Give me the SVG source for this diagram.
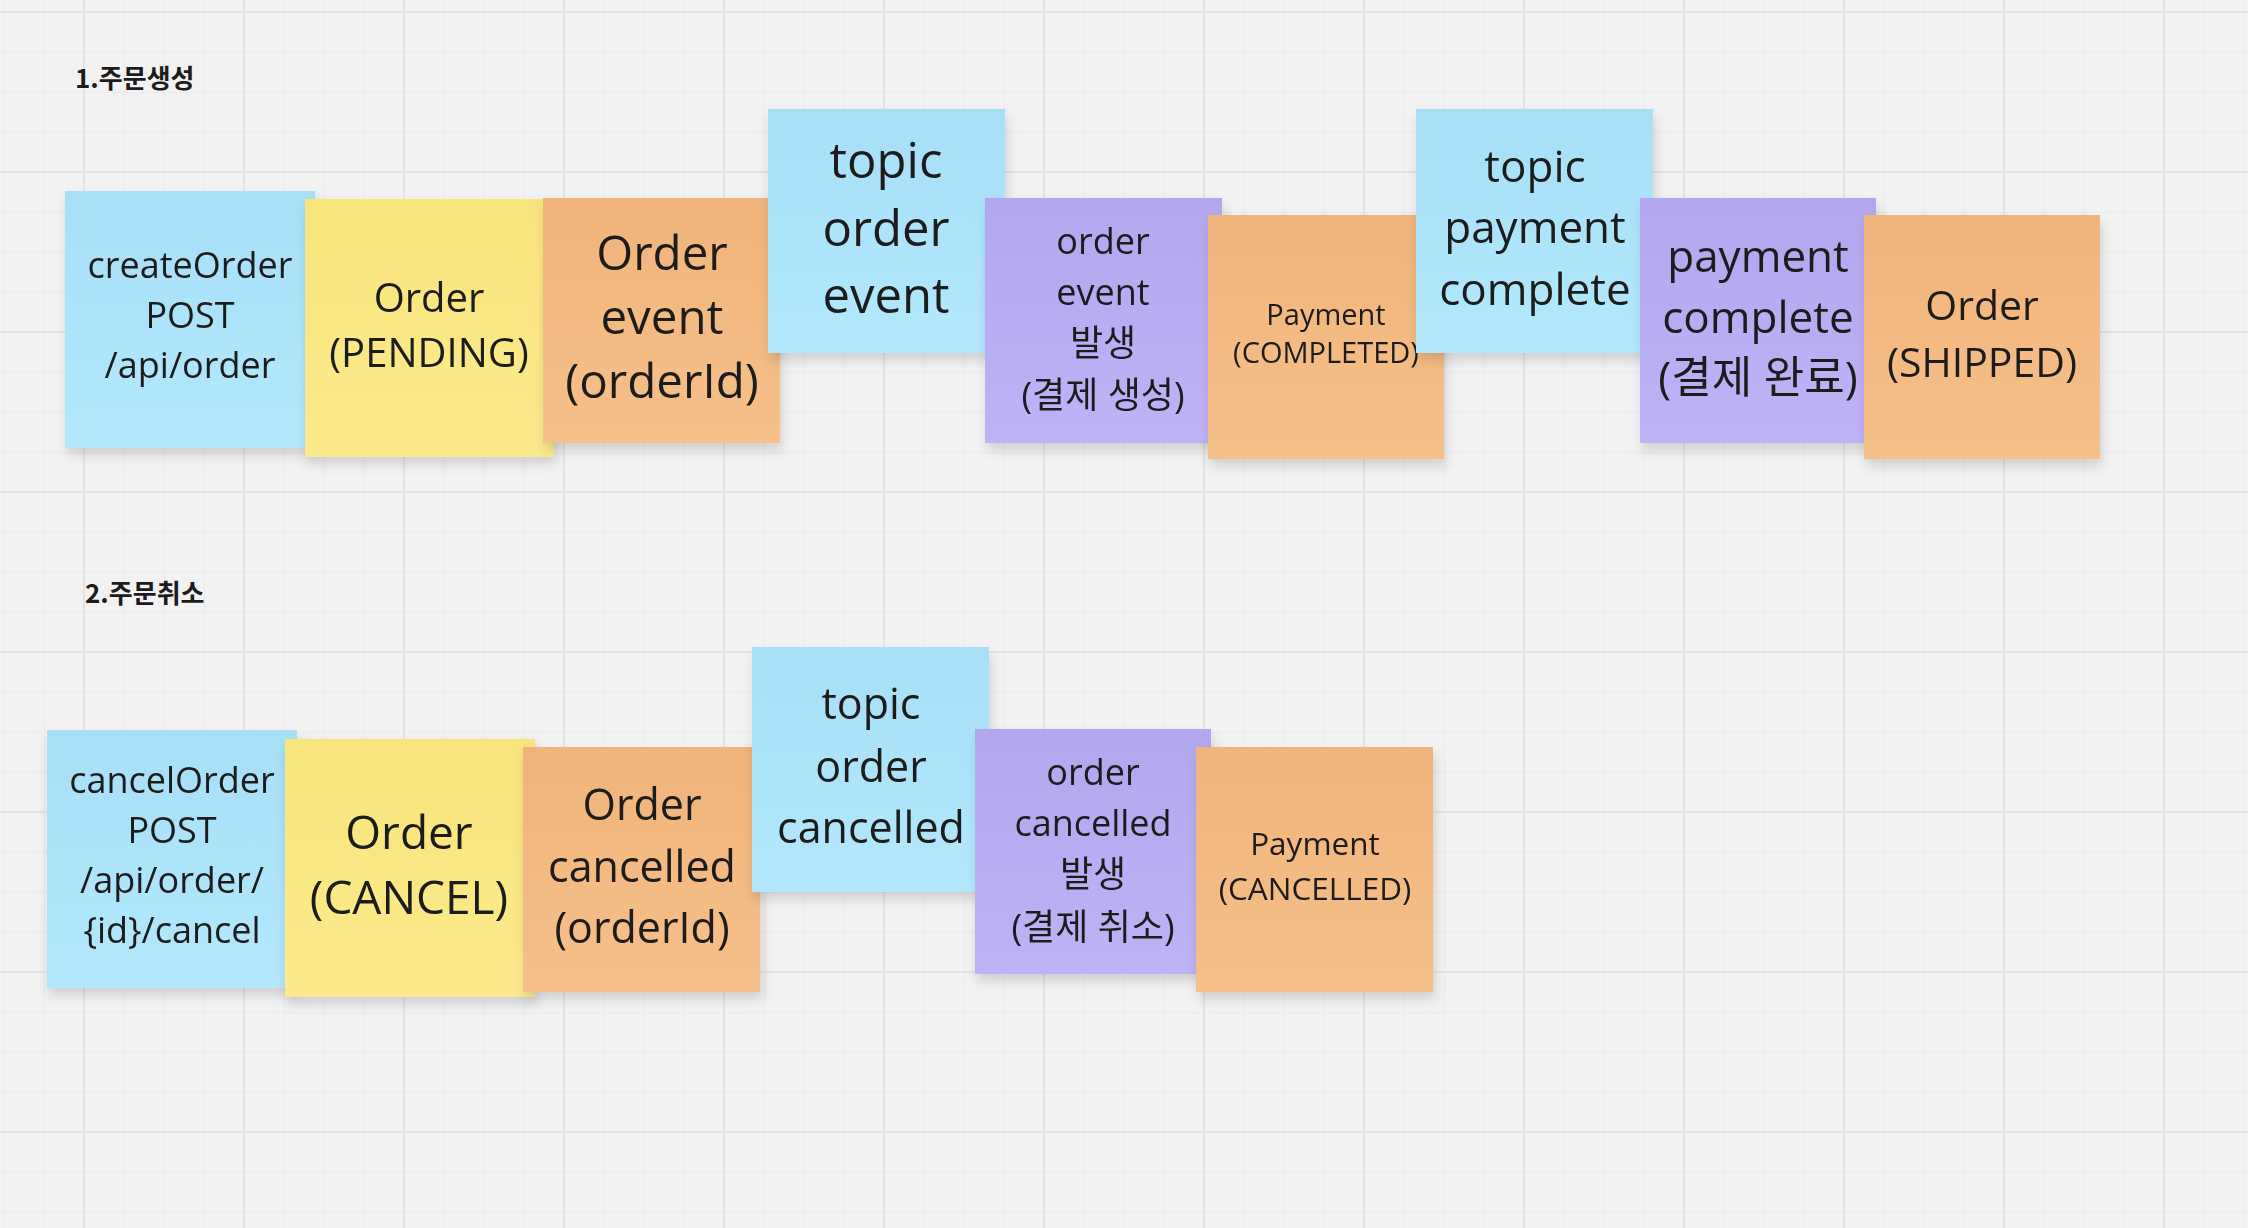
<svg xmlns="http://www.w3.org/2000/svg" width="2248" height="1228" viewBox="0 0 2248 1228">
<defs>
<style>
.t{font-family:"Open Sans","Noto Sans CJK KR",sans-serif;fill:#1c1c1c;text-anchor:middle}
.h{font-family:"Noto Sans CJK KR","Open Sans",sans-serif;font-weight:700;fill:#1c1c1c;font-size:26px}
.blue{fill:url(#gBlue)}
.yel{fill:url(#gYel)}
.ora{fill:url(#gOra)}
.pur{fill:url(#gPur)}
.sticky{filter:url(#sh)}
</style>
<linearGradient id="gBlue" x1="0" y1="0" x2="0" y2="1"><stop offset="0" stop-color="#a7dff7"/><stop offset="1" stop-color="#b3e8fc"/></linearGradient>
<linearGradient id="gYel" x1="0" y1="0" x2="0" y2="1"><stop offset="0" stop-color="#f8e57c"/><stop offset="1" stop-color="#fcea8c"/></linearGradient>
<linearGradient id="gOra" x1="0" y1="0" x2="0" y2="1"><stop offset="0" stop-color="#f0b47a"/><stop offset="1" stop-color="#f6c08b"/></linearGradient>
<linearGradient id="gPur" x1="0" y1="0" x2="0" y2="1"><stop offset="0" stop-color="#b2a7ee"/><stop offset="1" stop-color="#bdb3f6"/></linearGradient>
<filter id="sh" x="-10%" y="-10%" width="125%" height="125%"><feDropShadow dx="2" dy="7" stdDeviation="6" flood-color="#000" flood-opacity="0.14"/></filter>
<pattern id="grid" patternUnits="userSpaceOnUse" x="84" y="12" width="160" height="160">
<rect width="160" height="160" fill="#f2f2f2"/>
<g fill="#eaeaea">
<rect x="40" y="0" width="1" height="160"/><rect x="80" y="0" width="1" height="160"/><rect x="120" y="0" width="1" height="160"/>
<rect x="0" y="40" width="160" height="1"/><rect x="0" y="80" width="160" height="1"/><rect x="0" y="120" width="160" height="1"/>
</g>
<g fill="#e3e3e3">
<rect x="0" y="0" width="1" height="160"/><rect x="159" y="0" width="1" height="160"/>
<rect x="0" y="0" width="160" height="1"/><rect x="0" y="159" width="160" height="1"/>
</g>
</pattern>
</defs>
<rect width="2248" height="1228" fill="url(#grid)"/>

<text class="h" x="75" y="88">1.주문생성</text>
<text class="h" x="85" y="603">2.주문취소</text>

<g id="connectors"></g>

<g id="n-createOrder" class="sticky"><rect class="blue" x="65" y="191" width="250" height="257"/>
<text class="t" font-size="36"><tspan x="190" y="278">createOrder</tspan><tspan x="190" y="328">POST</tspan><tspan x="190" y="378">/api/order</tspan></text></g>
<g id="n-orderPending" class="sticky"><rect class="yel" x="305" y="199" width="249" height="258"/>
<text class="t" font-size="40"><tspan x="429" y="312">Order</tspan><tspan x="429" y="367">(PENDING)</tspan></text></g>
<g id="n-orderEvent" class="sticky"><rect class="ora" x="543" y="198" width="237" height="245"/>
<text class="t" font-size="47.5"><tspan x="662" y="270">Order</tspan><tspan x="662" y="334">event</tspan><tspan x="662" y="398">(orderId)</tspan></text></g>
<g id="n-topicOrderEvent" class="sticky"><rect class="blue" x="768" y="109" width="237" height="244"/>
<text class="t" font-size="49"><tspan x="886" y="178">topic</tspan><tspan x="886" y="246">order</tspan><tspan x="886" y="313">event</tspan></text></g>
<g id="n-orderEventFired" class="sticky"><rect class="pur" x="985" y="198" width="237" height="245"/>
<text class="t" font-size="36"><tspan x="1103" y="254">order</tspan><tspan x="1103" y="305">event</tspan><tspan x="1103" y="356">발생</tspan><tspan x="1103" y="408">(결제 생성)</tspan></text></g>
<g id="n-paymentCompleted" class="sticky"><rect class="ora" x="1208" y="215" width="236" height="244"/>
<text class="t" font-size="29"><tspan x="1326" y="325">Payment</tspan><tspan x="1326" y="363">(COMPLETED)</tspan></text></g>
<g id="n-topicPaymentComplete" class="sticky"><rect class="blue" x="1416" y="109" width="237" height="244"/>
<text class="t" font-size="44"><tspan x="1535" y="182">topic</tspan><tspan x="1535" y="243">payment</tspan><tspan x="1535" y="305">complete</tspan></text></g>
<g id="n-paymentCompleteFired" class="sticky"><rect class="pur" x="1640" y="198" width="236" height="245"/>
<text class="t" font-size="44"><tspan x="1758" y="272">payment</tspan><tspan x="1758" y="333">complete</tspan><tspan x="1758" y="393">(결제 완료)</tspan></text></g>
<g id="n-orderShipped" class="sticky"><rect class="ora" x="1864" y="215" width="236" height="244"/>
<text class="t" font-size="41"><tspan x="1982" y="320">Order</tspan><tspan x="1982" y="377">(SHIPPED)</tspan></text></g>

<g id="n-cancelOrder" class="sticky"><rect class="blue" x="47" y="730" width="250" height="258"/>
<text class="t" font-size="36"><tspan x="172" y="793">cancelOrder</tspan><tspan x="172" y="843">POST</tspan><tspan x="172" y="893">/api/order/</tspan><tspan x="172" y="943">{id}/cancel</tspan></text></g>
<g id="n-orderCancel" class="sticky"><rect class="yel" x="285" y="739" width="250" height="258"/>
<text class="t" font-size="46"><tspan x="409" y="849">Order</tspan><tspan x="409" y="914">(CANCEL)</tspan></text></g>
<g id="n-orderCancelled" class="sticky"><rect class="ora" x="523" y="747" width="237" height="245"/>
<text class="t" font-size="43"><tspan x="642" y="820">Order</tspan><tspan x="642" y="882">cancelled</tspan><tspan x="642" y="943">(orderId)</tspan></text></g>
<g id="n-topicOrderCancelled" class="sticky"><rect class="blue" x="752" y="647" width="237" height="245"/>
<text class="t" font-size="43"><tspan x="871" y="719">topic</tspan><tspan x="871" y="782">order</tspan><tspan x="871" y="843">cancelled</tspan></text></g>
<g id="n-orderCancelledFired" class="sticky"><rect class="pur" x="975" y="729" width="236" height="245"/>
<text class="t" font-size="36"><tspan x="1093" y="785">order</tspan><tspan x="1093" y="836">cancelled</tspan><tspan x="1093" y="887">발생</tspan><tspan x="1093" y="940">(결제 취소)</tspan></text></g>
<g id="n-paymentCancelled" class="sticky"><rect class="ora" x="1196" y="747" width="237" height="245"/>
<text class="t" font-size="31.5"><tspan x="1315" y="855">Payment</tspan><tspan x="1315" y="900">(CANCELLED)</tspan></text></g>
</svg>
